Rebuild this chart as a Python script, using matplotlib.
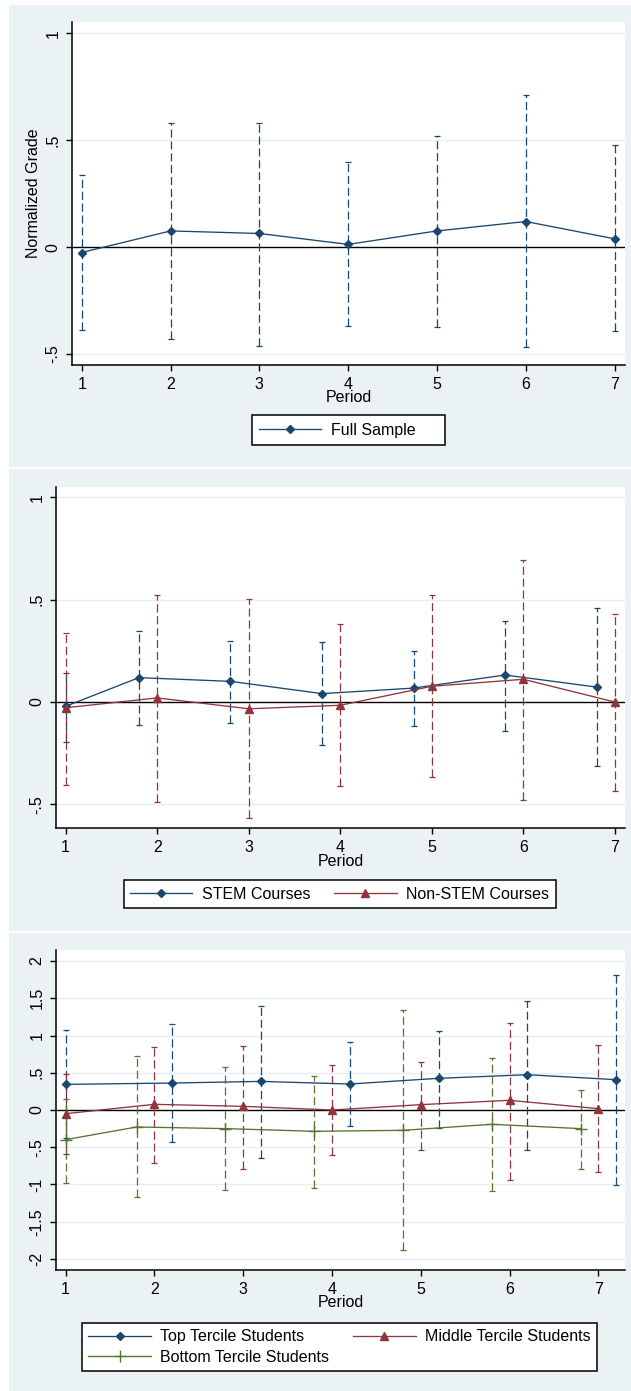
import numpy as np
import matplotlib
matplotlib.use("Agg")
import matplotlib.pyplot as plt
from matplotlib.patches import Rectangle

plt.rcParams['font.family'] = ['Liberation Sans', 'DejaVu Sans']

NAVY = '#1A476F'
MAROON = '#90353B'
FOREST = '#55752F'
PANEL_BG = '#EAF2F3'
GRID = '#E6EEF0'

periods = [1, 2, 3, 4, 5, 6, 7]
period_labels = ['1', '2', '3', '4', '5', '6', '7']

# panel 1: full sample
full_est = [-0.025, 0.076, 0.064, 0.013, 0.076, 0.120, 0.039]
full_hi = [0.338, 0.579, 0.579, 0.397, 0.519, 0.710, 0.476]
full_lo = [-0.388, -0.431, -0.461, -0.368, -0.375, -0.469, -0.394]

# panel 2: STEM vs non-STEM
stem_x = [1, 1.8, 2.8, 3.8, 4.8, 5.8, 6.8]
stem_est = [-0.021, 0.119, 0.101, 0.041, 0.068, 0.132, 0.073]
stem_hi = [0.143, 0.347, 0.300, 0.293, 0.248, 0.398, 0.458]
stem_lo = [-0.196, -0.112, -0.104, -0.209, -0.117, -0.142, -0.313]
nonstem_x = [1, 2, 3, 4, 5, 6, 7]
nonstem_est = [-0.028, 0.020, -0.033, -0.016, 0.077, 0.111, 0.000]
nonstem_hi = [0.339, 0.522, 0.504, 0.380, 0.522, 0.694, 0.430]
nonstem_lo = [-0.404, -0.489, -0.567, -0.411, -0.365, -0.478, -0.437]

# panel 3: terciles
top_x = [1, 2.2, 3.2, 4.2, 5.2, 6.2, 7.2]
top_est = [0.344, 0.362, 0.384, 0.349, 0.425, 0.474, 0.407]
top_hi = [1.068, 1.149, 1.394, 0.916, 1.055, 1.466, 1.810]
top_lo = [-0.380, -0.434, -0.648, -0.210, -0.241, -0.541, -1.001]
mid_x = [1, 2, 3, 4, 5, 6, 7]
mid_est = [-0.049, 0.076, 0.049, 0.000, 0.072, 0.130, 0.018]
mid_hi = [0.478, 0.845, 0.858, 0.608, 0.639, 1.166, 0.876]
mid_lo = [-0.590, -0.711, -0.791, -0.608, -0.541, -0.934, -0.836]
bot_x = [1, 1.8, 2.8, 3.8, 4.8, 5.8, 6.8]
bot_est = [-0.398, -0.228, -0.250, -0.286, -0.273, -0.192, -0.250]
bot_hi = [0.147, 0.720, 0.577, 0.451, 1.336, 0.697, 0.268]
bot_lo = [-0.979, -1.167, -1.073, -1.041, -1.873, -1.086, -0.787]

yt1 = [-0.5, 0, 0.5, 1]
yt1_labels = ['-.5', '0', '.5', '1']
yt3 = [-2, -1.5, -1, -0.5, 0, 0.5, 1, 1.5, 2]
yt3_labels = ['-2', '-1.5', '-1', '-.5', '0', '.5', '1', '1.5', '2']

W, H = 631, 1391
fig = plt.figure(figsize=(W / 100, H / 100), dpi=100)
fig.patch.set_facecolor('white')


def px_rect(x0, y0, x1, y1):
    # pixel box (top-left origin) -> figure fraction [l, b, w, h]
    return [x0 / W, 1 - y1 / H, (x1 - x0) / W, (y1 - y0) / H]


for y0, y1 in [(5, 466.7), (469, 930.7), (932.7, 1391)]:
    l, b, w, h = px_rect(9, y0, W, y1)
    fig.patches.append(Rectangle((l, b), w, h, transform=fig.transFigure,
                                 facecolor=PANEL_BG, edgecolor='none', zorder=-2))


def setup(ax, xlim, ylim, yticks, ylabels):
    ax.set_xlim(*xlim)
    ax.set_ylim(*ylim)
    ax.set_facecolor('white')
    for s in ['top', 'right']:
        ax.spines[s].set_visible(False)
    for s in ['left', 'bottom']:
        ax.spines[s].set_linewidth(1.1)
        ax.spines[s].set_color('black')
    ax.set_yticks(yticks)
    ax.set_yticklabels(ylabels, rotation=90, va='center')
    ax.set_xticks(periods)
    ax.set_xticklabels(period_labels)
    ax.tick_params(length=4.5, width=1, labelsize=11.5, pad=4, color='black')
    for yv in yticks:
        if yv != 0:
            ax.axhline(yv, color=GRID, lw=1, zorder=0.5)
    ax.axhline(0, color='black', lw=1, zorder=1)
    ax.set_xlabel('Period', fontsize=11.5, labelpad=-1)


def ci(ax, x, lo, hi, color):
    lo = np.array(lo)
    hi = np.array(hi)
    mid = (lo + hi) / 2
    eb = ax.errorbar(x, mid, yerr=[mid - lo, hi - mid], fmt='none', ecolor=color,
                     elinewidth=0.9, capsize=2.2, capthick=0.9, zorder=2)
    for lc in eb[2]:
        lc.set_linestyle((0, (6.5, 3)))


def series(ax, x, est, color, marker, ms, label):
    return ax.plot(x, est, color=color, lw=0.95, marker=marker, ms=ms,
                   mfc=color, mec=color, mew=1, label=label, zorder=3)[0]


# ---------------- panel 1 ----------------
ax1 = fig.add_axes(px_rect(72.4, 22, 625.3, 365))
setup(ax1, (0.895, 7.12), (-0.551, 1.053), yt1, yt1_labels)
ci(ax1, periods, full_lo, full_hi, NAVY)
h1 = series(ax1, periods, full_est, NAVY, 'D', 4.2, 'Full Sample')
ax1.set_ylabel('Normalized Grade', fontsize=11.5, labelpad=3)
ax1.legend(handles=[h1], loc='center', bbox_to_anchor=(337.3 / W, 1 - 430 / H),
           bbox_transform=fig.transFigure, frameon=False, fontsize=11.5,
           handlelength=3.9, handletextpad=0.6)
l, b, w, h = px_rect(252, 415, 445, 445)
fig.patches.append(Rectangle((l, b), w, h, transform=fig.transFigure,
                             facecolor='white', edgecolor='black', lw=1.1, zorder=-1))

# ---------------- panel 2 ----------------
ax2 = fig.add_axes(px_rect(56.3, 486.7, 625, 828.3))
setup(ax2, (0.898, 7.11), (-0.617, 1.052), yt1, yt1_labels)
ci(ax2, stem_x, stem_lo, stem_hi, NAVY)
ci(ax2, nonstem_x, nonstem_lo, nonstem_hi, MAROON)
h2a = series(ax2, stem_x, stem_est, NAVY, 'D', 4.2, 'STEM Courses')
h2b = series(ax2, nonstem_x, nonstem_est, MAROON, '^', 6, 'Non-STEM Courses')
leg2 = ax2.legend(handles=[h2a, h2b], loc='center', ncol=2,
                  bbox_to_anchor=(339.6 / W, 1 - 894.2 / H),
                  bbox_transform=fig.transFigure, fontsize=11.5, fancybox=False,
                  edgecolor='black', framealpha=1, handlelength=3.9,
                  handletextpad=0.6, columnspacing=1.5, borderpad=0.4)
leg2.get_frame().set_linewidth(1.1)

# ---------------- panel 3 ----------------
ax3 = fig.add_axes(px_rect(56.3, 950, 625, 1270))
setup(ax3, (0.895, 7.30), (-2.148, 2.148), yt3, yt3_labels)
ci(ax3, top_x, top_lo, top_hi, NAVY)
ci(ax3, mid_x, mid_lo, mid_hi, MAROON)
ci(ax3, bot_x, bot_lo, bot_hi, FOREST)
h3a = series(ax3, top_x, top_est, NAVY, 'D', 4.2, 'Top Tercile Students')
h3b = series(ax3, mid_x, mid_est, MAROON, '^', 6, 'Middle Tercile Students')
h3c = series(ax3, bot_x, bot_est, FOREST, '+', 8, 'Bottom Tercile Students')
leg3 = ax3.legend(handles=[h3a, h3c, h3b], loc='center', ncol=2,
                  bbox_to_anchor=(339.6 / W, 1 - 1347.2 / H),
                  bbox_transform=fig.transFigure, fontsize=11.5, fancybox=False,
                  edgecolor='black', framealpha=1, handlelength=3.9,
                  handletextpad=0.6, columnspacing=1.5, borderpad=0.4,
                  labelspacing=0.35)
leg3.get_frame().set_linewidth(1.1)

fig.savefig('out.png', dpi=100)
